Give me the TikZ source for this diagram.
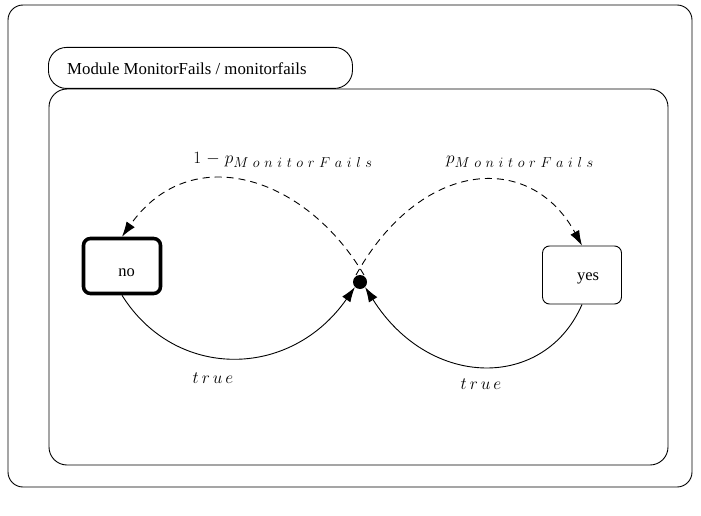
\documentclass[tikz,border=0pt]{standalone}
\usepackage{fontspec}
\setmainfont{Liberation Serif}
\usetikzlibrary{arrows.meta}
% letter-spaced math italic: \spaced{gap}{letters}
\makeatletter
\newcommand\spaced[2]{\def\sp@gap{#1}\sp@loop#2\@nil}
\def\sp@loop#1#2\@nil{#1\if\relax\detokenize{#2}\relax\else\kern\sp@gap\sp@loop#2\@nil\fi}
\makeatother
\newcommand\mfails{_{\hbox{\fontsize{14.4}{16}\selectfont$\spaced{4.6pt}{MonitorFails}$}}}
% state text placed with its baseline a given distance below the centre
\newcommand\statetext[3]{\smash{\hspace{#1}\raisebox{-#2}{#3}}}
\begin{document}
\begin{tikzpicture}[x=1pt,y=-1pt,
  frame/.style={draw,line width=0.9pt},
  state/.style={draw,line width=0.9pt,rounded corners=7pt,minimum width=79pt,minimum height=58pt,inner sep=0pt,font=\fontsize{16.5}{18}\selectfont},
  initstate/.style={state,line width=3.6pt,minimum width=77pt,minimum height=55pt},
  trans/.style={line width=0.9pt,-{Latex[length=15pt,width=10pt]}},
  prob/.style={trans,dash pattern=on 7pt off 5pt},
  lab/.style={inner sep=1pt,font=\fontsize{18}{20}\selectfont}]
\useasboundingbox (0,0) rectangle (701,516);
% module frames
\draw[frame,rounded corners=15pt] (8,5) rectangle (692,487);
\draw[frame,rounded corners=18pt] (49,89) rectangle (668,465);
\node[frame,rounded corners=18pt,minimum width=304pt,minimum height=41pt,inner sep=0pt,anchor=north west] (title) at (48,47) {};
\node[anchor=west,inner sep=0pt,font=\fontsize{16.8}{19}\selectfont] (titletext) at (67,69) {Module MonitorFails / monitorfails};
% states
\node[initstate] (no) at (122,266) {\statetext{9pt}{10pt}{no}};
\node[state] (yes) at (582,275) {\statetext{12pt}{5pt}{yes}};
\node[circle,fill,inner sep=0pt,minimum size=14pt] (dot) at (360,282) {};
\coordinate (dl) at (364,275);
\coordinate (dr) at (356,275);
% probabilistic branches
\draw[prob] (dl) .. controls (305,175) and (190,140) .. (no.north);
\draw[prob] (dr) .. controls (420,160) and (530,150) .. (yes.north);
% deterministic transitions
\draw[trans] (no.south) .. controls (175,380) and (290,380) .. (dot.south west);
\draw[trans] (yes.south) .. controls (545,390) and (430,390) .. (dot.south east);
% labels
\node[lab] (l1) at (283,160) {$1\kern5pt{-}\kern5pt p\mfails$};
\node[lab] (l2) at (520,162) {$p\mfails$};
\node[lab] (l3) at (213,378) {$\spaced{3pt}{true}$};
\node[lab] (l4) at (481,384) {$\spaced{3pt}{true}$};
\end{tikzpicture}
\end{document}
